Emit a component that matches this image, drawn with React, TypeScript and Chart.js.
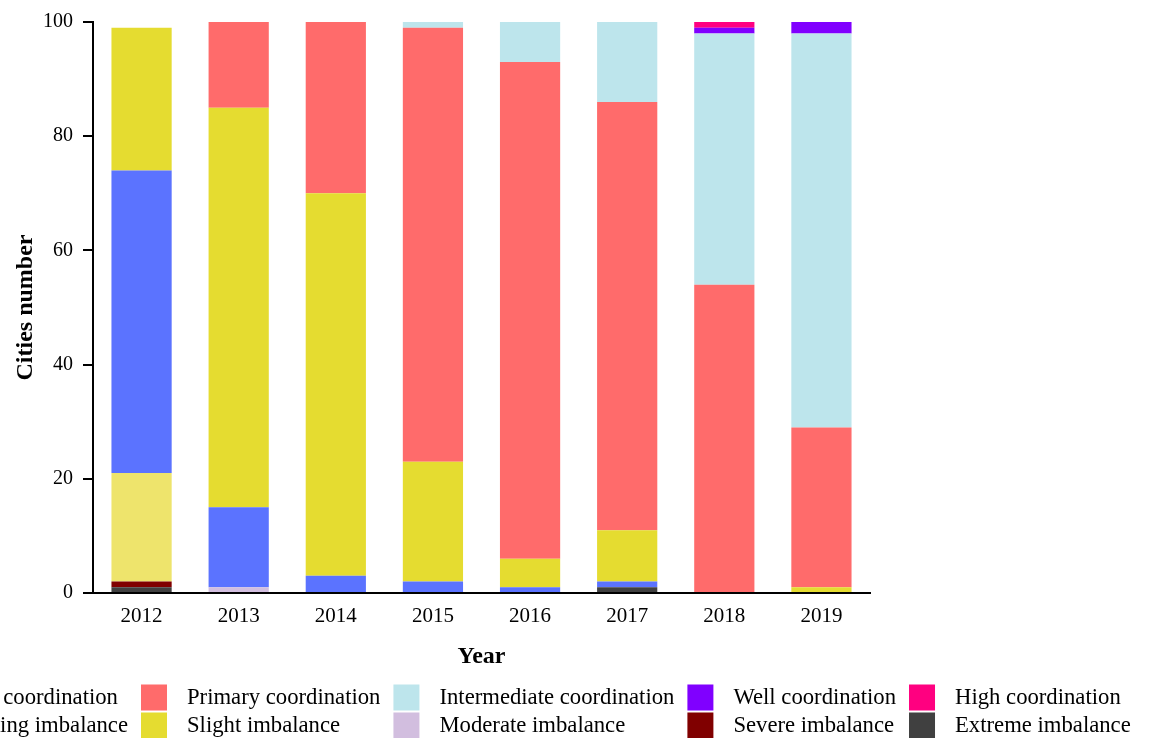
import React, { useEffect, useRef } from "react";
import { Chart, registerables } from "chart.js";

Chart.register(...registerables);

const years = ["2012", "2013", "2014", "2015", "2016", "2017", "2018", "2019"];

const extremeImbalance = [1, 0, 0, 0, 0, 1, 0, 0];
const severeImbalance = [1, 0, 0, 0, 0, 0, 0, 0];
const moderateImbalance = [0, 1, 0, 0, 0, 0, 0, 0];
const borderingImbalance = [19, 0, 0, 0, 0, 0, 0, 0];
const barelyCoordination = [53, 14, 3, 2, 1, 1, 0, 0];
const slightImbalance = [25, 70, 67, 21, 5, 9, 0, 1];
const primaryCoordination = [0, 15, 30, 76, 87, 75, 54, 28];
const intermediateCoordination = [0, 0, 0, 1, 7, 14, 44, 69];
const wellCoordination = [0, 0, 0, 0, 0, 0, 1, 2];
const highCoordination = [0, 0, 0, 0, 0, 0, 1, 0];

const yTicks = [0, 20, 40, 60, 80, 100];

const SERIF = '"Liberation Serif", "Times New Roman", serif';

// stack order, bottom to top
const series = [
  { label: "Extreme imbalance", data: extremeImbalance, color: "#404040" },
  { label: "Severe imbalance", data: severeImbalance, color: "#800000" },
  { label: "Moderate imbalance", data: moderateImbalance, color: "#D2BEDF" },
  { label: "Bordering imbalance", data: borderingImbalance, color: "#EEE46C" },
  { label: "Barely coordination", data: barelyCoordination, color: "#5B73FF" },
  { label: "Slight imbalance", data: slightImbalance, color: "#E5DC30" },
  { label: "Primary coordination", data: primaryCoordination, color: "#FF6B6B" },
  { label: "Intermediate coordination", data: intermediateCoordination, color: "#BDE5EC" },
  { label: "Well coordination", data: wellCoordination, color: "#8000FF" },
  { label: "High coordination", data: highCoordination, color: "#FF0080" },
];

// legend grid: rows of labels
const legendRows = [
  ["Barely coordination", "Primary coordination", "Intermediate coordination", "Well coordination", "High coordination"],
  ["Bordering imbalance", "Slight imbalance", "Moderate imbalance", "Severe imbalance", "Extreme imbalance"],
];

const gridLegend = {
  id: "gridLegend",
  afterDraw(chart: any) {
    const ctx = chart.ctx;
    const fontSize = 22.7;
    const box = 26;
    const gapText = 20;
    const colGap = 13;
    const rowY = [697.5, 725.5];
    const anchorCol2 = 141;
    ctx.save();
    ctx.font = `${fontSize}px ${SERIF}`;
    const nCols = legendRows[0].length;
    const colW: number[] = [];
    for (let c = 0; c < nCols; c++) {
      let m = 0;
      for (const row of legendRows) m = Math.max(m, ctx.measureText(row[c]).width);
      colW.push(box + gapText + m);
    }
    let x = anchorCol2 - colGap - colW[0];
    const colX: number[] = [];
    for (let c = 0; c < nCols; c++) {
      colX.push(x);
      x += colW[c] + colGap;
    }
    ctx.textBaseline = "middle";
    ctx.textAlign = "left";
    legendRows.forEach((row, r) => {
      row.forEach((lab, c) => {
        const s = series.find((d) => d.label === lab);
        ctx.fillStyle = s ? s.color : "#000";
        ctx.fillRect(colX[c], rowY[r] - box / 2, box, box);
        ctx.fillStyle = "#000";
        ctx.fillText(lab, colX[c] + box + gapText, rowY[r] + 1);
      });
    });
    ctx.restore();
  },
};

export default function App() {
  const ref = useRef<HTMLCanvasElement | null>(null);
  useEffect(() => {
    if (!ref.current) return;
    const chart = new Chart(ref.current, {
      type: "bar",
      data: {
        labels: years,
        datasets: series.map((s) => ({
          label: s.label,
          data: s.data,
          backgroundColor: s.color,
          borderWidth: 0,
          barPercentage: 0.62,
          categoryPercentage: 1,
        })),
      },
      options: {
        responsive: false,
        animation: false,
        devicePixelRatio: 1,
        layout: { padding: { top: 18, right: 280, bottom: 67, left: 0 } },
        plugins: {
          legend: { display: false },
          tooltip: { enabled: false },
        },
        scales: {
          x: {
            stacked: true,
            grid: { display: false, drawTicks: false },
            border: { display: true, color: "#000", width: 2 },
            ticks: { color: "#000", padding: 11, font: { family: SERIF, size: 21 } },
            title: {
              display: true,
              text: "Year",
              color: "#000",
              padding: { top: 0, bottom: 0 },
              font: { family: SERIF, size: 24, weight: "bold" },
            },
            afterFit(scale: any) {
              scale.height = 78;
            },
          },
          y: {
            stacked: true,
            min: 0,
            max: 100,
            afterBuildTicks(scale: any) {
              scale.ticks = yTicks.map((v) => ({ value: v }));
            },
            grid: { drawOnChartArea: false, drawTicks: true, tickLength: 10, color: "#000", lineWidth: 2 },
            border: { display: true, color: "#000", width: 2 },
            ticks: { color: "#000", padding: 10, font: { family: SERIF, size: 20 } },
            title: {
              display: true,
              text: "Cities number",
              color: "#000",
              padding: { top: 11, bottom: 0 },
              font: { family: SERIF, size: 24, weight: "bold" },
            },
            afterFit(scale: any) {
              scale.width = 93;
            },
          },
        },
      },
      plugins: [gridLegend],
    });
    return () => chart.destroy();
  }, []);
  return (
    <div style={{ position: "absolute", left: 0, top: 0, width: 1150, height: 738, overflow: "hidden", background: "#fff" }}>
      <canvas ref={ref} width={1150} height={738} style={{ display: "block" }} />
    </div>
  );
}
